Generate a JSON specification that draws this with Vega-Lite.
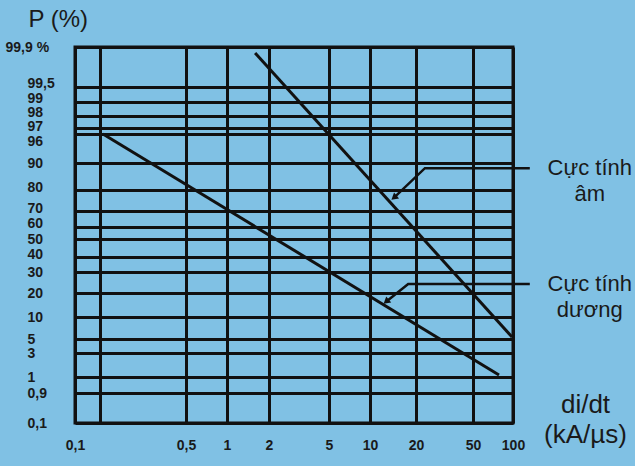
{
  "$schema": "https://vega.github.io/schema/vega-lite/v6.json",
  "width": 438,
  "height": 376,
  "autosize": {"type": "none"},
  "padding": {"left": 75, "top": 47, "right": 122, "bottom": 43},
  "background": "#80c1e4",
  "config": {
    "view": {"stroke": "#111111", "strokeWidth": 3, "fill": null},
    "font": "Liberation Sans"
  },
  "datasets": {
    "curves": [
      {"series": "Cực tính âm", "x": 1.67, "y": 99.84},
      {"series": "Cực tính âm", "x": 98.75, "y": 5.45},
      {"series": "Cực tính dương", "x": 0.162, "y": 96},
      {"series": "Cực tính dương", "x": 82.5, "y": 1.17}
    ],
    "leaders": [
      {"series": "Cực tính âm", "order": 1, "x": 15.4, "y": 76.7},
      {"series": "Cực tính âm", "order": 2, "x": 24.7, "y": 88.1},
      {"series": "Cực tính âm", "order": 3, "x": 121, "y": 88.1},
      {"series": "Cực tính dương", "order": 1, "x": 13.7, "y": 16.7},
      {"series": "Cực tính dương", "order": 2, "x": 18.3, "y": 24.3},
      {"series": "Cực tính dương", "order": 3, "x": 121, "y": 24.3}
    ],
    "arrows": [
      {"series": "Cực tính âm", "x": 15.4, "y": 76.7},
      {"series": "Cực tính dương", "x": 13.7, "y": 16.7}
    ],
    "labels": [
      {"label": ["Cực tính", "âm"], "x": 121, "y": 88.1},
      {"label": ["Cực tính", "dương"], "x": 121, "y": 24.3}
    ]
  },
  "encoding": {
    "x": {
      "field": "x",
      "type": "quantitative",
      "scale": {
        "type": "linear",
        "domain": [0.1, 0.15, 0.5, 1, 2, 5, 10, 20, 50, 100],
        "range": [0, 25, 111, 152, 194, 254, 295, 341, 398, 438],
        "nice": false,
        "zero": false
      },
      "axis": {
        "values": [0.1, 0.15, 0.5, 1, 2, 5, 10, 20, 50, 100],
        "labelExpr": "datum.value == 0.15 ? '' : replace('' + datum.value, '.', ',')",
        "grid": true,
        "gridColor": "#111111",
        "gridWidth": 3,
        "gridOpacity": 1,
        "domain": false,
        "ticks": false,
        "tickSize": 0,
        "labelPadding": 15,
        "labelFontSize": 14,
        "labelFontWeight": "bold",
        "labelColor": "#1a1a1a",
        "labelOverlap": false,
        "labelFlush": false,
        "labelBound": false,
        "title": ["di/dt", "(kA/µs)"],
        "titleX": 510,
        "titleY": -11,
        "titleAlign": "center",
        "titleAnchor": null,
        "titleBaseline": "alphabetic",
        "titleFontSize": 26,
        "titleFontWeight": "normal",
        "titleLineHeight": 30,
        "titleColor": "#1a1a1a"
      }
    },
    "y": {
      "field": "y",
      "type": "quantitative",
      "scale": {
        "type": "linear",
        "domain": [0.1, 0.9, 1, 3, 5, 10, 20, 30, 40, 50, 60, 70, 80, 90, 96, 97, 98, 99, 99.5, 99.9],
        "range": [376, 346, 330, 306, 292, 270, 246, 225, 210, 192, 180, 164, 143, 116, 87, 81, 69, 55, 40, 0],
        "nice": false,
        "zero": false
      },
      "axis": {
        "values": [0.1, 0.9, 1, 3, 5, 10, 20, 30, 40, 50, 60, 70, 80, 90, 96, 97, 98, 99, 99.5, 99.9],
        "labelExpr": "datum.value == 99.9 ? '99,9 %' : replace('' + datum.value, '.', ',')",
        "grid": true,
        "gridColor": "#111111",
        "gridWidth": 3,
        "gridOpacity": 1,
        "domain": false,
        "ticks": false,
        "tickSize": 0,
        "labelAlign": "left",
        "labelBaseline": "middle",
        "labelPadding": {"condition": {"test": "datum.value == 99.9", "value": 70}, "value": 48},
        "labelOffset": {"condition": [
          {"test": "datum.value == 96", "value": 7},
          {"test": "datum.value >= 97.5 && datum.value < 99.9", "value": -4},
          {"test": "datum.value == 97", "value": -2},
          {"test": "datum.value == 60", "value": -4},
          {"test": "datum.value == 40 || datum.value == 70 || datum.value == 80", "value": -3}
        ], "value": 0},
        "labelFontSize": 14,
        "labelFontWeight": "bold",
        "labelColor": "#1a1a1a",
        "labelOverlap": false,
        "labelFlush": false,
        "labelBound": false,
        "title": "P (%)",
        "titleAngle": 0,
        "titleX": -47,
        "titleY": -21,
        "titleAlign": "left",
        "titleAnchor": null,
        "titleBaseline": "alphabetic",
        "titleFontSize": 24,
        "titleFontWeight": "normal",
        "titleColor": "#1a1a1a"
      }
    }
  },
  "layer": [
    {
      "data": {"name": "curves"},
      "mark": {"type": "line", "color": "#111111", "strokeWidth": 3},
      "encoding": {"detail": {"field": "series"}}
    },
    {
      "data": {"name": "leaders"},
      "mark": {"type": "line", "color": "#111111", "strokeWidth": 2.5},
      "encoding": {
        "detail": {"field": "series"},
        "order": {"field": "order", "type": "quantitative"}
      }
    },
    {
      "data": {"name": "arrows"},
      "mark": {"type": "point", "shape": "triangle", "filled": true, "color": "#111111", "opacity": 1, "size": 60, "angle": 230}
    },
    {
      "data": {"name": "labels"},
      "mark": {"type": "text", "align": "center", "baseline": "middle", "dx": 60, "fontSize": 22, "lineHeight": 26, "color": "#1a1a1a", "font": "Liberation Sans"},
      "encoding": {"text": {"field": "label"}}
    }
  ]
}
